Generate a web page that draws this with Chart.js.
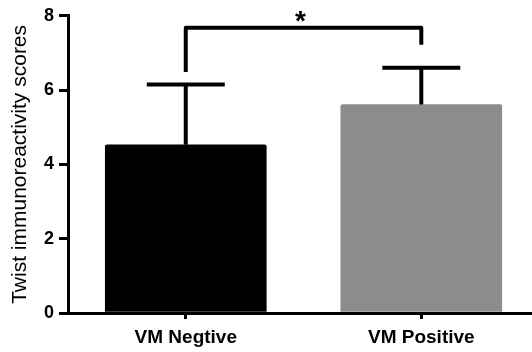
<!DOCTYPE html>
<html>
<head>
<meta charset="utf-8">
<script src="https://cdn.jsdelivr.net/npm/chart.js@4.4.1/dist/chart.umd.min.js"></script>
<style>
  html, body { margin: 0; padding: 0; background: #fff; }
  #wrap { width: 532px; height: 352px; position: relative; }
</style>
</head>
<body>
<div id="wrap"><canvas id="bars"></canvas></div>
<script>
// data
const categories = ["VM Negtive", "VM Positive"];
const means = [4.53, 5.61];
const errUpper = [6.15, 6.6];
const barColors = ["#000000", "#8c8c8c"];
const yTicks = [0, 2, 4, 6, 8];
const yTitle = "Twist immunoreactivity scores";
// significance bracket: level, left/right leg ends, mark
const bracketLevel = 7.68;
const bracketLegs = [6.49, 7.22];
const sigMark = "*";

const FONT = "Arial, 'Liberation Sans', Helvetica, sans-serif";

const errorBars = {
  id: "errorBars",
  afterDatasetsDraw(chart) {
    const { ctx, scales } = chart;
    const x = scales.x, y = scales.y;
    ctx.save();
    ctx.strokeStyle = "#000";
    ctx.lineWidth = 4;
    ctx.lineCap = "butt";
    means.forEach((m, i) => {
      const px = x.getPixelForValue(i);
      const top = y.getPixelForValue(errUpper[i]);
      ctx.beginPath();
      ctx.moveTo(px, y.getPixelForValue(m));
      ctx.lineTo(px, top);
      ctx.moveTo(px - 39, top);
      ctx.lineTo(px + 39, top);
      ctx.stroke();
    });

    // bracket
    const x0 = x.getPixelForValue(0), x1 = x.getPixelForValue(1);
    const yb = y.getPixelForValue(bracketLevel);
    ctx.lineJoin = "round";
    ctx.beginPath();
    ctx.moveTo(x0, y.getPixelForValue(bracketLegs[0]));
    ctx.lineTo(x0, yb);
    ctx.lineTo(x1, yb);
    ctx.lineTo(x1, y.getPixelForValue(bracketLegs[1]));
    ctx.stroke();

    ctx.fillStyle = "#000";
    ctx.font = "bold 28px " + FONT;
    ctx.textAlign = "center";
    ctx.textBaseline = "alphabetic";
    ctx.fillText(sigMark, (x0 + x1) / 2 - 3, yb + 2);
    ctx.restore();
  },
};

const chartConfig = {
  type: "bar",
  data: {
    datasets: [
      {
        data: means.map((v, i) => ({ x: i, y: v })),
        backgroundColor: barColors,
        barThickness: 161,
        borderRadius: { topLeft: 2, topRight: 2 },
        borderSkipped: "bottom",
      },
    ],
  },
  options: {
    animation: false,
    responsive: false,
    devicePixelRatio: 1,
    layout: {
      padding: { top: 14, left: 0, right: 0, bottom: 0 },
    },
    scales: {
      x: {
        type: "linear",
        offset: false,
        min: -0.5,
        max: 1.47,
        afterBuildTicks: function (scale) {
          scale.ticks = categories.map((c, i) => ({ value: i }));
        },
        afterFit: function (scale) {
          scale.height = 39;
        },
        ticks: {
          color: "#000",
          padding: 7,
          maxRotation: 0,
          font: { family: FONT, size: 19, weight: "bold" },
          callback: function (val) {
            return categories[val];
          },
        },
        grid: {
          offset: false,
          drawOnChartArea: false,
          drawTicks: true,
          tickLength: 6,
          color: "#000",
          lineWidth: 3,
        },
        border: { display: true, color: "#000", width: 3 },
      },
      y: {
        min: 0,
        max: 8,
        afterBuildTicks: function (scale) {
          scale.ticks = yTicks.map(v => ({ value: v }));
        },
        afterFit: function (scale) {
          scale.width = 68;
        },
        ticks: {
          color: "#000",
          padding: 5,
          font: { family: FONT, size: 18, weight: "bold" },
        },
        grid: {
          drawOnChartArea: false,
          drawTicks: true,
          tickLength: 9,
          color: "#000",
          lineWidth: 3,
        },
        border: { display: true, color: "#000", width: 3 },
        title: {
          display: true,
          text: yTitle,
          color: "#000",
          padding: { top: 8, bottom: 0 },
          font: { family: FONT, size: 21, weight: "normal" },
        },
      },
    },
    plugins: {
      legend: { display: false },
      tooltip: { enabled: false },
    },
  },
  plugins: [errorBars],
};

const canvas = document.getElementById("bars");
canvas.width = 532;
canvas.height = 352;
new Chart(canvas, chartConfig);
</script>
</body>
</html>
